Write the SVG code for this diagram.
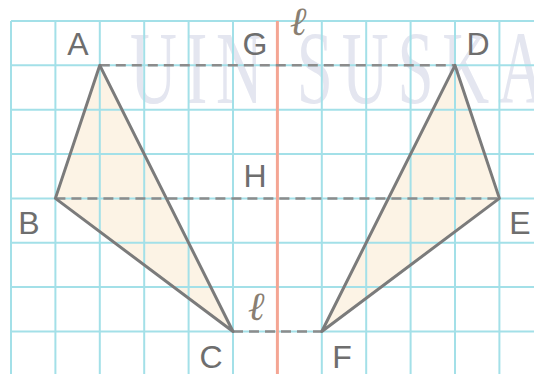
<svg xmlns="http://www.w3.org/2000/svg" width="534" height="374" viewBox="0 0 534 374">
  <style>
    .grid line { stroke: #a3e0e8; stroke-width: 2; }
    .tri-fill { fill: #fcf3e5; stroke: none; }
    .tri { fill: none; stroke: #7b7b7b; stroke-width: 3; stroke-linejoin: round; }
    .dash { stroke: #8c8c8c; stroke-width: 2.5; stroke-dasharray: 10 6; fill: none; }
    .lbl { font-family: "Liberation Sans", Arial, sans-serif; font-size: 32px; fill: #6e6e6e; text-anchor: middle; }
    .ell { font-family: "DejaVu Serif", "Liberation Serif", serif; font-style: italic; font-size: 40px; fill: #8a7f72; text-anchor: middle; }
    .wm { font-family: "Liberation Serif", "Times New Roman", serif; font-size: 103px; fill: #e4e6f0; letter-spacing: 14px; }
  </style>
  <rect width="534" height="374" fill="#ffffff"/>
  <text class="wm" transform="translate(130,103) scale(0.63,1)">UIN SUSKA</text>

  <g id="fills">
    <polygon class="tri-fill" points="99.8,65.3 55.4,198.4 233,331.5"/>
    <polygon class="tri-fill" points="455,65.3 499.4,198.4 321.8,331.5"/>
  </g>

  <g id="grid" class="grid">
    <line x1="11" y1="21" x2="534" y2="21"/>
    <line x1="11" y1="65.3" x2="534" y2="65.3"/>
    <line x1="11" y1="109.7" x2="534" y2="109.7"/>
    <line x1="11" y1="154" x2="534" y2="154"/>
    <line x1="11" y1="198.4" x2="534" y2="198.4"/>
    <line x1="11" y1="242.8" x2="534" y2="242.8"/>
    <line x1="11" y1="287.1" x2="534" y2="287.1"/>
    <line x1="11" y1="331.5" x2="534" y2="331.5"/>
    <line x1="11" y1="21" x2="11" y2="374"/>
    <line x1="55.4" y1="21" x2="55.4" y2="374"/>
    <line x1="99.8" y1="21" x2="99.8" y2="374"/>
    <line x1="144.2" y1="21" x2="144.2" y2="374"/>
    <line x1="188.6" y1="21" x2="188.6" y2="374"/>
    <line x1="233" y1="21" x2="233" y2="374"/>
    <line x1="321.8" y1="21" x2="321.8" y2="374"/>
    <line x1="366.2" y1="21" x2="366.2" y2="374"/>
    <line x1="410.6" y1="21" x2="410.6" y2="374"/>
    <line x1="455" y1="21" x2="455" y2="374"/>
    <line x1="499.4" y1="21" x2="499.4" y2="374"/>
  </g>

  <g id="axis">
    <line x1="277.4" y1="21" x2="277.4" y2="374" stroke="#f4a593" stroke-width="3"/>
    <text class="ell" x="298" y="35">ℓ</text>
    <text class="ell" x="256" y="320">ℓ</text>
  </g>

  <g id="connectors">
    <line class="dash" x1="99.8" y1="65.3" x2="455" y2="65.3"/>
    <line class="dash" x1="55.4" y1="198.4" x2="499.4" y2="198.4"/>
    <line class="dash" x1="233" y1="331.5" x2="321.8" y2="331.5"/>
  </g>

  <g id="triangle-ABC">
    <polygon class="tri" points="99.8,65.3 55.4,198.4 233,331.5"/>
  </g>
  <g id="triangle-DEF">
    <polygon class="tri" points="455,65.3 499.4,198.4 321.8,331.5"/>
  </g>

  <g id="label-A"><text class="lbl" x="78" y="55">A</text></g>
  <g id="label-G"><text class="lbl" x="255" y="55">G</text></g>
  <g id="label-D"><text class="lbl" x="478" y="55">D</text></g>
  <g id="label-H"><text class="lbl" x="255" y="187">H</text></g>
  <g id="label-B"><text class="lbl" x="29" y="234">B</text></g>
  <g id="label-E"><text class="lbl" x="520" y="234">E</text></g>
  <g id="label-C"><text class="lbl" x="211" y="368">C</text></g>
  <g id="label-F"><text class="lbl" x="342" y="368">F</text></g>
</svg>
